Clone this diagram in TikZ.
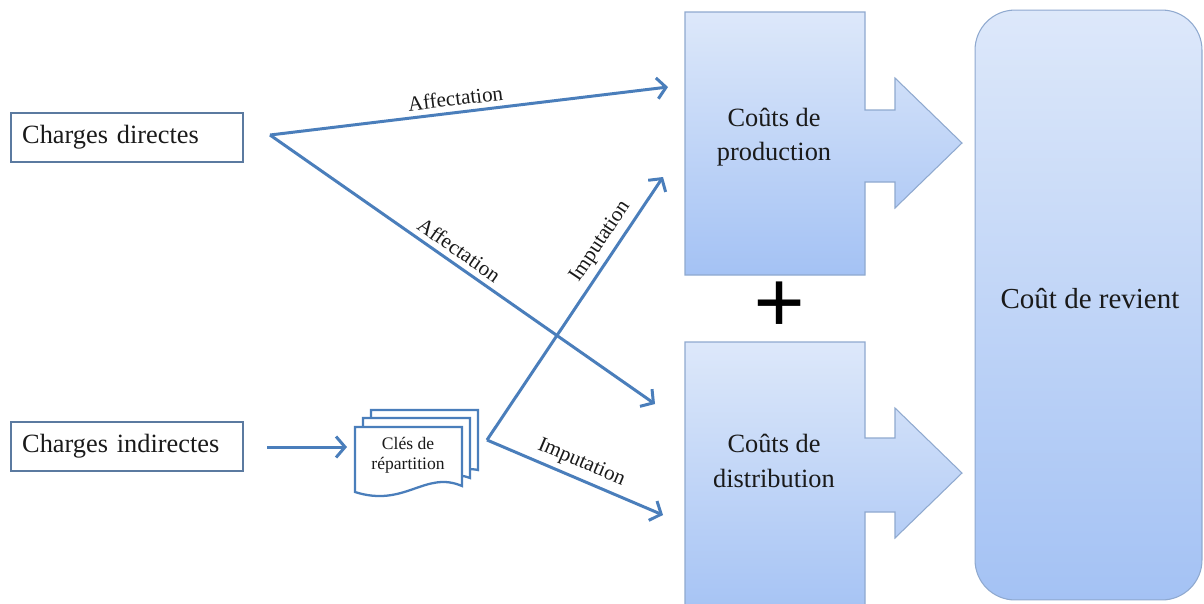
\documentclass[tikz,border=0pt]{standalone}
\usepackage{fontspec}
\setmainfont{Liberation Serif}
\usetikzlibrary{arrows.meta}
\definecolor{arrowblue}{HTML}{4A7EBB}
\definecolor{boxedge}{HTML}{5B7AA0}
\definecolor{shtop}{HTML}{DDE8FA}
\definecolor{shbot}{HTML}{A4C2F4}
\definecolor{shedge}{HTML}{8FA9CF}
\definecolor{txt}{HTML}{1A1A1A}
\begin{document}
\begin{tikzpicture}[x=0.02cm,y=-0.02cm,
  chargebox/.style={draw=boxedge,line width=1.4pt,fill=white,minimum height=0.99cm,
    text width=4.2cm,inner xsep=0.22cm,align=left,text=txt,
    font=\fontsize{15}{18}\selectfont,anchor=west},
  conn/.style={draw=arrowblue,line width=1.7pt,line join=round,-{Straight Barb[length=1.8mm,width=4.2mm]}},
  lab/.style={font=\fontsize{12}{14}\selectfont,sloped,above,inner sep=3pt,text=txt},
  costshape/.style={top color=shtop,bottom color=shbot,draw=shedge,line width=0.6pt},
  doc/.style={draw=arrowblue,fill=white,line width=1.3pt},
  costtext/.style={align=center,text=txt,font=\fontsize{15}{19.5}\selectfont}]
\clip (0,0) rectangle (1204,603);
\fill[white] (0,0) rectangle (1204,603);

% cost shapes
\path[costshape] (685,12) -- (865,12) -- (865,110) -- (895,110) -- (895,78)
  -- (962,143) -- (895,208) -- (895,182) -- (865,182) -- (865,275) -- (685,275) -- cycle;
\path[costshape] (685,342) -- (865,342) -- (865,438) -- (895,438) -- (895,408)
  -- (962,473) -- (895,538) -- (895,512) -- (865,512) -- (865,620) -- (685,620) -- cycle;
\node[costshape,rounded corners=0.8cm,minimum width=4.54cm,minimum height=11.8cm] (cr) at (1088.5,305) {};
\node[costtext,font=\fontsize{16.5}{20}\selectfont] (crtext) at (1090,299) {Coût de revient};
\node[costtext] (prod) at (774,137) {Coûts de\\production};
\node[costtext] (dist) at (774,461) {Coûts de\\distribution};
\node[font=\fontsize{52}{52}\selectfont\bfseries,inner sep=0pt] (plus) at (780,308) {+};

% charges boxes
\node[chargebox] (cd) at (10,137.5) {Charges directes};
\node[chargebox] (ci) at (10,446.5) {Charges indirectes};

% documents
\path[doc] (371,410) -- (478,410) -- (478,470) .. controls (460,466) and (455,478) .. (440,480) -- (371,480) -- cycle;
\path[doc] (363,418) -- (470,418) -- (470,478) .. controls (440,466) and (410,500) .. (363,486) -- cycle;
\path[doc] (355,427) -- (462,427) -- (462,486) .. controls (425,470) and (405,508) .. (355,492) -- cycle;
\node[align=center,text=txt,font=\fontsize{10}{11.5}\selectfont] (cles) at (408,455) {Clés de\\répartition};

% connector end points
\coordinate (cdv) at (270,135);
\coordinate (cdprod) at (668,87);
\coordinate (cddist) at (655,404);
\coordinate (ciout) at (267,447);
\coordinate (clesin) at (347,447);
\coordinate (clesv) at (487,440);
\coordinate (clesprod) at (663,177);
\coordinate (clesdist) at (663,515);

\draw[conn] (cdv) -- node[lab,pos=0.47] {Affectation} (cdprod);
\draw[conn] (cdv) -- node[lab,pos=0.47] {Affectation} (cddist);
\draw[conn] (ciout) -- (clesin);
\draw[conn] (clesv) -- node[lab,pos=0.72] {Imputation} (clesprod);
\draw[conn] (clesv) -- node[lab,pos=0.5] {Imputation} (clesdist);
\end{tikzpicture}
\end{document}
